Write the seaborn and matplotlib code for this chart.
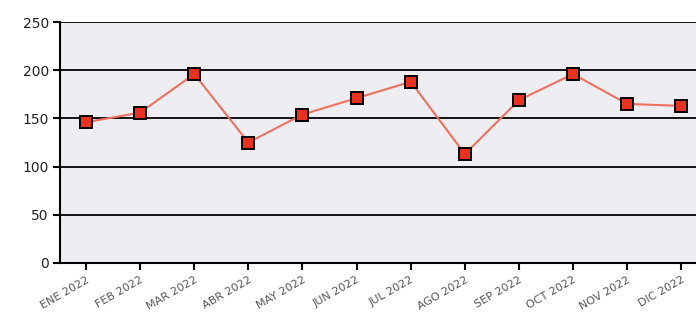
import pandas as pd
import matplotlib
matplotlib.use("Agg")
import matplotlib.pyplot as plt
import seaborn as sns

months = ["ENE 2022", "FEB 2022", "MAR 2022", "ABR 2022", "MAY 2022", "JUN 2022",
          "JUL 2022", "AGO 2022", "SEP 2022", "OCT 2022", "NOV 2022", "DIC 2022"]
values = [146, 156, 196, 125, 154, 171, 188, 113, 169, 196, 165, 163]
y_ticks = [0, 50, 100, 150, 200, 250]

sns.set_style("white", {"axes.facecolor": "#eeeef2"})
plt.rcParams["font.family"] = ["DejaVu Sans"]

df = pd.DataFrame({"mes": months, "valor": values})
df["pos"] = range(len(months))

fig = plt.figure(figsize=(6.96, 3.27), dpi=100)
ax = fig.add_axes([60 / 696, 64 / 327, 1 - 60 / 696 + 0.01, 241 / 327])

sns.lineplot(data=df, x="pos", y="valor", ax=ax, color="#f0705f", linewidth=1.5,
             marker="s", markersize=8, markerfacecolor="#e8321f",
             markeredgecolor="black", markeredgewidth=1.4, zorder=5)

ax.set_ylim(0, 250)
ax.set_xlim(-0.48, 11.4)
ax.set_yticks(y_ticks)
ax.set_yticklabels([str(v) for v in y_ticks], fontsize=10, color="#222222")
ax.set_xticks(df["pos"])
ax.set_xticklabels(months, rotation=30, ha="right", rotation_mode="anchor",
                   fontsize=8, color="#555555")
ax.tick_params(axis="both", direction="out", length=5, width=1.5, color="black",
               left=True, bottom=True)
ax.tick_params(axis="y", pad=3)
ax.grid(axis="y", color="black", linewidth=1.3)
ax.set_axisbelow(True)
for s in ["top", "right"]:
    ax.spines[s].set_visible(False)
for s in ["left", "bottom"]:
    ax.spines[s].set_color("black")
    ax.spines[s].set_linewidth(1.5)
ax.set_xlabel("")
ax.set_ylabel("")

fig.savefig("out.png", dpi=100)
